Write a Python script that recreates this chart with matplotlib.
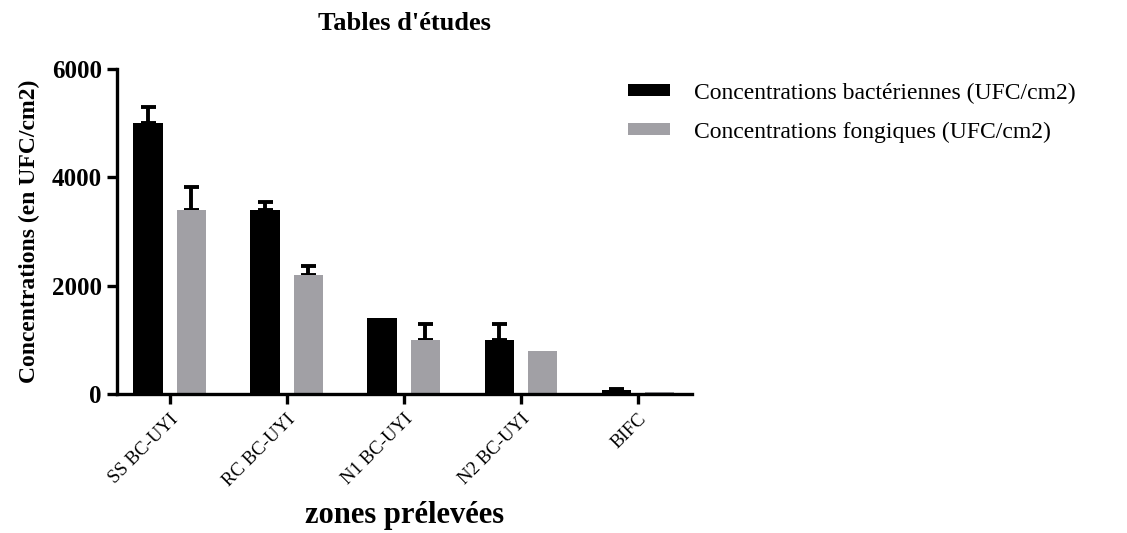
import numpy as np
import matplotlib.pyplot as plt

plt.rcParams['font.family'] = ['Liberation Serif', 'DejaVu Serif']

zones = ["SS BC-UYI", "RC BC-UYI", "N1 BC-UYI", "N2 BC-UYI", "BIFC"]
bact = [5000, 3400, 1400, 1000, 70]
bact_err = [300, 150, 0, 300, 30]
fong = [3400, 2200, 1000, 800, 30]
fong_err = [420, 160, 300, 0, 0]

black = "#000000"
grey = "#a1a0a5"

fig = plt.figure(figsize=(11.27, 5.33), dpi=100)
ax = fig.add_axes([0.1038, 0.2608, 0.5100, 0.6097])

x = np.arange(len(zones))
w = 0.25
off = 0.185

ax.bar(x - off, bact, w, color=black, zorder=2,
       label="Concentrations bactériennes (UFC/cm2)")
ax.bar(x + off, fong, w, color=grey, zorder=2,
       label="Concentrations fongiques (UFC/cm2)")

# upper-only error bars, skipped where there is no spread
def draw_err(xpos, vals, errs):
    xpos = np.asarray(xpos)
    vals = np.asarray(vals, dtype=float)
    errs = np.asarray(errs, dtype=float)
    keep = errs > 0
    ax.errorbar(xpos[keep], vals[keep],
                yerr=[np.zeros(keep.sum()), errs[keep]], fmt="none",
                ecolor=black, elinewidth=2.8, capsize=5.4, capthick=2.8,
                zorder=1)

draw_err(x - off, bact, bact_err)
draw_err(x + off, fong, fong_err)

ax.set_xlim(-0.45, 4.46)
ax.set_ylim(0, 6000)
ax.set_yticks([0, 2000, 4000, 6000])
ax.set_xticks(x)
ax.set_xticklabels(zones, rotation=45, ha="right", rotation_mode="anchor",
                   fontsize=13.5)
for lab in ax.get_yticklabels():
    lab.set_fontweight("bold")
    lab.set_fontsize(18)

for s in ["top", "right"]:
    ax.spines[s].set_visible(False)
for s in ["left", "bottom"]:
    ax.spines[s].set_linewidth(2.4)
ax.tick_params(axis="both", width=2.4, length=7, direction="out")
ax.tick_params(axis="y", pad=4)
ax.tick_params(axis="x", pad=5)

ax.set_ylabel("Concentrations (en UFC/cm2)", fontsize=17, fontweight="bold",
              labelpad=8)
ax.set_xlabel("zones prélevées", fontsize=22, fontweight="bold")
ax.xaxis.set_label_coords(0.5, -0.33)
ax.set_title("Tables d'études", fontsize=19, fontweight="bold", pad=28)

fig.legend(loc="upper left", bbox_to_anchor=(0.538, 0.885), frameon=False,
           fontsize=17, handlelength=1.8, handleheight=0.4, labelspacing=0.75,
           handletextpad=1.0)

fig.savefig("out.png", dpi=100)
